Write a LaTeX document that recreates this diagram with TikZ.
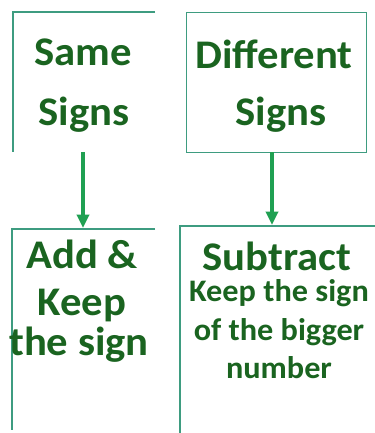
\documentclass[tikz,border=0pt]{standalone}
\usepackage{fontspec}
\setmainfont{Carlito}
\usetikzlibrary{arrows.meta}
\definecolor{boxline}{HTML}{3E9C80}
\definecolor{txtgreen}{HTML}{1A6420}
\definecolor{arrowgreen}{HTML}{20A052}
\tikzset{
  edge/.style={draw=boxline, line width=1.1pt},
  bigtxt/.style={text=txtgreen, font=\fontsize{30.5}{30.5}\selectfont\bfseries, inner sep=0pt, anchor=base, xscale=1.05},
  smalltxt/.style={text=txtgreen, font=\fontsize{23.5}{23.5}\selectfont\bfseries, inner sep=0pt, anchor=base, xscale=1.03},
  flowarrow/.style={draw=arrowgreen, line width=3pt, -{Triangle[length=10pt,width=9pt]}}
}
\begin{document}
\begin{tikzpicture}[x=0.75pt,y=-0.75pt]
\useasboundingbox (0,0) rectangle (375,433);
% top-left box (top and left edges only)
\coordinate (tlA) at (155,12);
\coordinate (tlB) at (13,12);
\coordinate (tlC) at (13,152);
\draw[edge] (tlA) -- (tlB) -- (tlC);
% top-right box
\node[edge, minimum width=180*0.75pt, minimum height=140*0.75pt, inner sep=0pt, anchor=north west] (tr) at (186,12) {};
% bottom-left box
\coordinate (blA) at (155,229);
\coordinate (blB) at (12,229);
\coordinate (blC) at (12,430);
\draw[edge] (blA) -- (blB) -- (blC);
% bottom-right box
\coordinate (brA) at (375,226);
\coordinate (brB) at (180,226);
\coordinate (brC) at (180,433);
\draw[edge] (brA) -- (brB) -- (brC);
% texts
\node[bigtxt] (t1) at (83,65) {Same};
\node[bigtxt] (t2) at (84,125) {Signs};
\node[bigtxt] (t3) at (274,68) {Different};
\node[bigtxt] (t4) at (281,125) {Signs};
\node[bigtxt] (t5) at (82,268) {Add \&};
\node[bigtxt] (t6) at (82,315) {Keep};
\node[bigtxt] (t7) at (79,355) {the sign};
\node[bigtxt] (t8) at (277,270) {Subtract};
\node[smalltxt] (t9) at (279,301) {Keep the sign};
\node[smalltxt] (t10) at (279,340) {of the bigger};
\node[smalltxt] (t11) at (279,378) {number};
% arrows
\coordinate (a1s) at (83,152);
\coordinate (a1e) at (83,228);
\coordinate (a2s) at (272,152);
\coordinate (a2e) at (272,225);
\draw[flowarrow] (a1s) -- (a1e);
\draw[flowarrow] (a2s) -- (a2e);
\end{tikzpicture}
\end{document}
